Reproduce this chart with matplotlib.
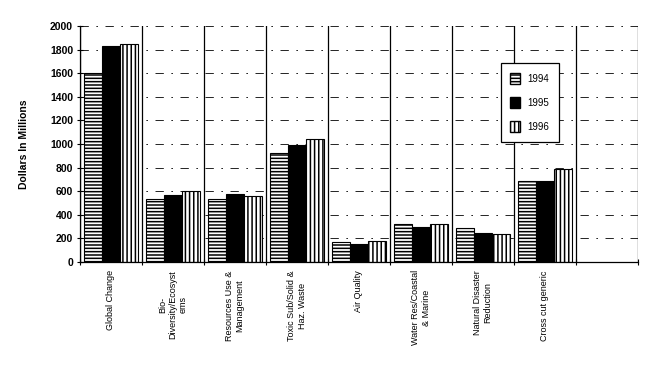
import numpy as np
import matplotlib
matplotlib.use('Agg')
import matplotlib.pyplot as plt
from matplotlib.patches import Patch

plt.rcParams['font.family'] = ['Liberation Sans', 'DejaVu Sans']
plt.rcParams['hatch.linewidth'] = 1.1

# datos (millones de dolares)
categorias = ['Global Change', 'Bio-\nDiversity/Ecosyst\nems', 'Resources Use &\nManagement',
              'Toxic Sub/Solid &\nHaz. Waste', 'Air Quality', 'Water Res/Coastal\n& Marine',
              'Natural Disaster\nReduction', 'Cross cut generic']
anios = ['1994', '1995', '1996']
v1994 = [1600, 530, 530, 920, 170, 320, 285, 690]
v1995 = [1830, 570, 575, 990, 155, 300, 245, 690]
v1996 = [1850, 600, 555, 1040, 180, 320, 235, 790]
yticks = np.arange(0, 2001, 200)

fig = plt.figure(figsize=(6.52, 3.66), dpi=100)
ax = fig.add_axes([0.1227, 0.2842, 0.8558, 0.6448])

x = np.arange(len(categorias))
w = 0.29

# rejilla: horizontales discontinuas, verticales entre grupos
for y in yticks[1:]:
    ax.axhline(y, color='black', lw=0.6, ls=(0, (10, 9, 2, 9)), zorder=0)
for b in np.arange(-0.5, 9.0, 1.0):
    ax.axvline(b, color='black', lw=0.9, zorder=0)

ax.bar(x - w, v1994, w, facecolor='white', edgecolor='black', hatch='-----', lw=0.8, zorder=2)
ax.bar(x, v1995, w, facecolor='black', edgecolor='black', lw=0.8, zorder=2)
ax.bar(x + w, v1996, w, facecolor='white', edgecolor='black', hatch='||||', lw=0.8, zorder=2)

ax.set_xlim(-0.5, 8.5)
ax.set_ylim(0, 2000)
ax.set_yticks(yticks)
ax.set_yticklabels([str(t) for t in yticks], fontsize=7.5, fontweight='bold')
ax.set_xticks(x)
ax.set_xticklabels(categorias, rotation=90, fontsize=6.5, ha='center', va='top', multialignment='center')
ax.set_xticks(np.arange(-0.5, 9.0, 1.0), minor=True)
ax.tick_params(axis='x', which='major', length=0, pad=6)
ax.tick_params(axis='x', which='minor', length=5, direction='inout', width=0.8)
ax.tick_params(axis='y', length=4, direction='inout', width=0.8, pad=3)

for s in ['top', 'right']:
    ax.spines[s].set_visible(False)
ax.spines['left'].set_linewidth(0.9)
ax.spines['bottom'].set_linewidth(0.9)

ax.set_ylabel('Dollars In Millions', fontsize=7.5, fontweight='bold', labelpad=15)

handles = [Patch(facecolor='white', edgecolor='black', hatch='-----'),
           Patch(facecolor='black', edgecolor='black'),
           Patch(facecolor='white', edgecolor='black', hatch='||||')]
leg = ax.legend(handles, anios, loc='upper left', bbox_to_anchor=(0.745, 0.862), fontsize=7,
                handlelength=1.0, handleheight=1.4, labelspacing=1.3, borderpad=1.0,
                fancybox=False, framealpha=1, edgecolor='black')
leg.get_frame().set_linewidth(0.9)

plt.savefig('out.png', dpi=100)
